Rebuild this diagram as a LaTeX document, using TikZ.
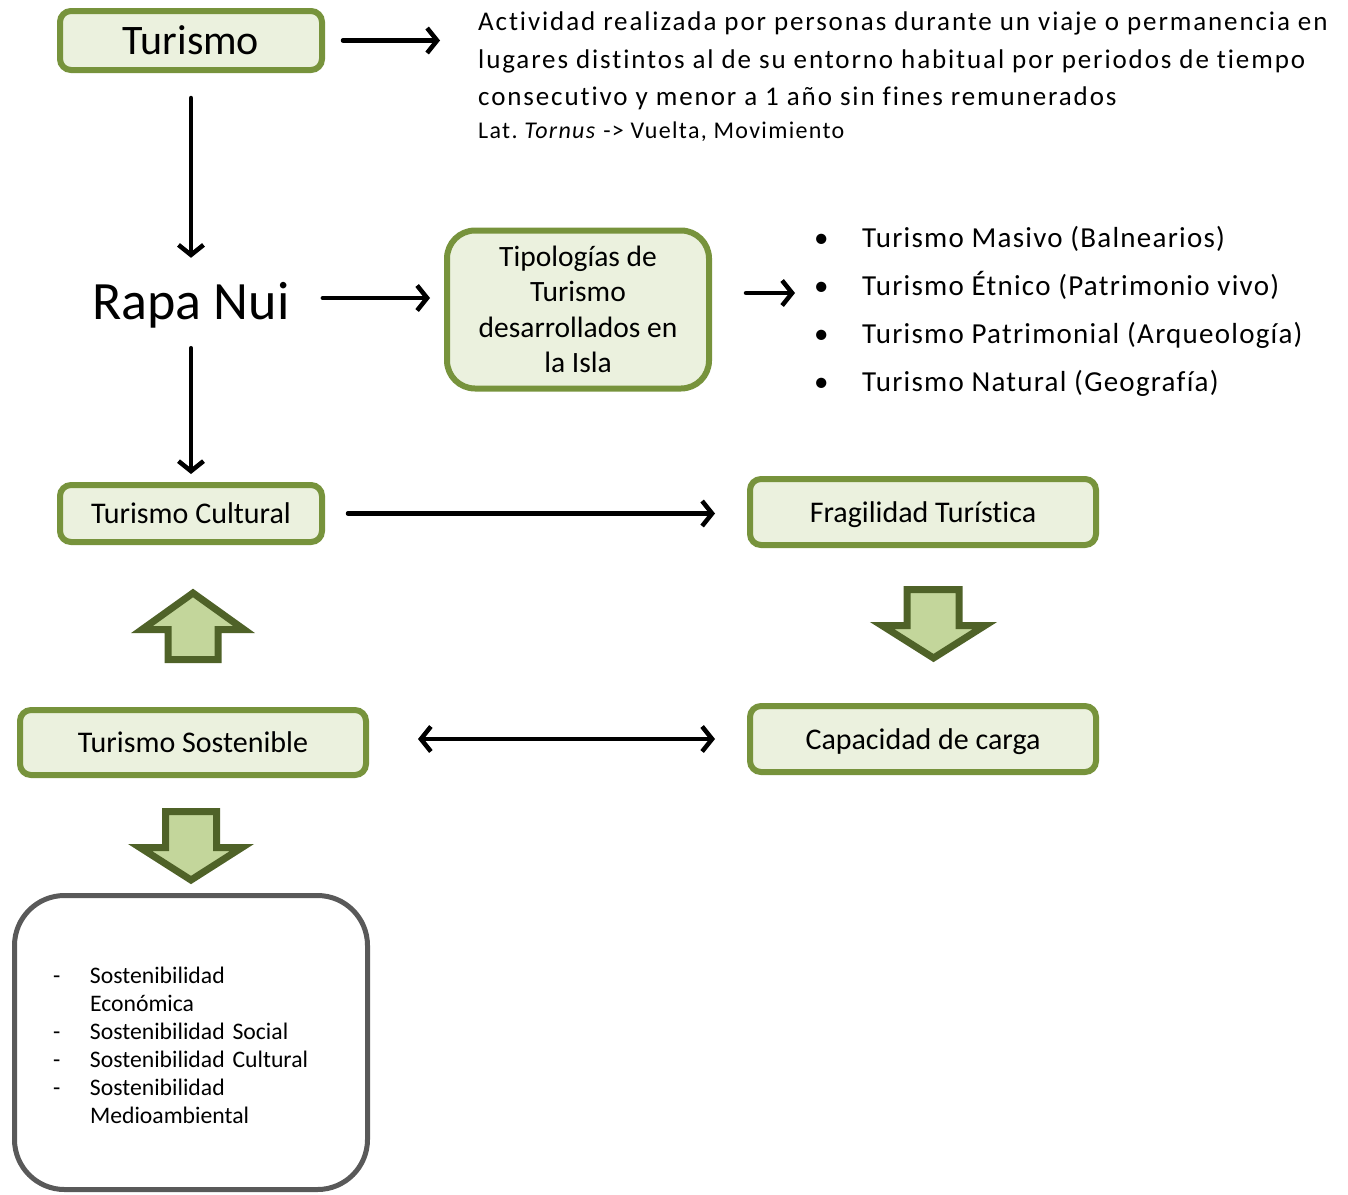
\documentclass[tikz,border=0pt]{standalone}
\usepackage{fontspec}
\setmainfont{Carlito}[Ligatures={TeX,NoCommon}]
\usetikzlibrary{arrows.meta}
\definecolor{boxfill}{HTML}{EBF1DE}
\definecolor{boxline}{HTML}{77933C}
\definecolor{blockfill}{HTML}{C3D69B}
\definecolor{blockline}{HTML}{4F6228}
\definecolor{greyline}{HTML}{595959}
\frenchspacing
\begin{document}
\begin{tikzpicture}[x=1pt,y=-1pt,
  gbox/.style={draw=boxline, line width=6pt, fill=boxfill, rounded corners=11pt,
    inner sep=0pt, align=center, font=\fontsize{30}{35}\selectfont},
  conn/.style={line width=4.5pt, line cap=round, -{Straight Barb[length=10pt,width=25pt]}},
  dconn/.style={line width=4.5pt, line cap=round,
    {Straight Barb[length=10pt,width=25pt]}-{Straight Barb[length=10pt,width=25pt]}},
  blockarrow/.style={draw=blockline, fill=blockfill, line width=7pt, line join=miter},
]
\useasboundingbox (0,0) rectangle (1348,1194);

% --- top row: definition of tourism
\node[gbox, minimum width=262pt, minimum height=59pt,
  font=\fontsize{42}{48}\selectfont] (turismo) at (191,40.5) {Turismo};
\node[anchor=north west, inner sep=0pt, align=left,
  font=\fontsize{27}{37.5}\selectfont\addfontfeature{LetterSpace=7}] (def) at (478,12)
  {Actividad realizada por personas durante un viaje o permanencia en\\
   lugares distintos al de su entorno habitual por periodos de tiempo\\
   consecutivo y menor a 1 año sin fines remunerados};
\node[anchor=north west, inner sep=0pt,
  font=\fontsize{24}{28}\selectfont\addfontfeature{LetterSpace=5.5}] (lat) at (478,122)
  {Lat. \textit{Tornus} -> Vuelta, Movimiento};
\draw[conn, shorten <=18pt, shorten >=38pt] (turismo.east) -- (turismo.east -| def.west);

% --- Rapa Nui and its tourism types
\node[inner sep=0pt, minimum width=197pt, minimum height=86pt,
  font=\fontsize{54}{60}\selectfont] (rapa) at (191,305) {Rapa Nui};
\draw[conn, shorten <=25pt, shorten >=4pt] (turismo.south) -- (rapa.north);

\node[gbox, rounded corners=28pt, minimum width=262pt, minimum height=158pt,
  font=\fontsize{29.5}{35.5}\selectfont] (tipo) at (578,309.5)
  {Tipologías de\\Turismo\\desarrollados en\\la Isla};
\draw[conn, shorten <=33pt, shorten >=14pt]
  ([yshift=7pt]rapa.east) -- ([yshift=7pt]rapa.east -| tipo.west);

\node[anchor=north west, inner sep=0pt, align=left,
  font=\fontsize{29}{48}\selectfont] (tipos) at (814,226)
  {\makebox[48pt][l]{•}{\addfontfeature{LetterSpace=4.3}Turismo Masivo (Balnearios)}\\
   \makebox[48pt][l]{•}{\addfontfeature{LetterSpace=4.3}Turismo Étnico (Patrimonio vivo)}\\
   \makebox[48pt][l]{•}{\addfontfeature{LetterSpace=4.3}Turismo Patrimonial (Arqueología)}\\
   \makebox[48pt][l]{•}{\addfontfeature{LetterSpace=4.3}Turismo Natural (Geografía)}};
\draw[conn, shorten <=34pt, shorten >=19pt]
  ([yshift=16.5pt]tipo.east) -- ([yshift=16.5pt]tipo.east -| tipos.west);

% --- cultural tourism and fragility
\node[gbox, minimum width=262pt, minimum height=57pt] (cultural) at (191,513.5)
  {Turismo Cultural};
\draw[conn, shorten <=0pt, shorten >=8pt] (rapa.south) -- (cultural.north);

\node[gbox, minimum width=346pt, minimum height=66pt, text depth=0pt] (fragil) at (923,512)
  {Fragilidad Turística};
\draw[conn, shorten <=23pt, shorten >=32pt]
  (cultural.east) -- (cultural.east -| fragil.west);

% --- sustainable tourism and carrying capacity
\node[gbox, minimum width=346pt, minimum height=65pt] (sost) at (193,742.5)
  {Turismo Sostenible};
\node[gbox, minimum width=346pt, minimum height=66pt, text depth=0pt] (carga) at (923,739)
  {Capacidad de carga};
\draw[dconn, shorten <=49pt, shorten >=32pt]
  (sost.east |- carga.west) -- (carga.west);

% --- block arrows
\draw[blockarrow] (193,593) -- (244,629.5) -- (218,629.5) -- (218,659.5)
  -- (168,659.5) -- (168,629.5) -- (142,629.5) -- cycle;
\draw[blockarrow] (907,589.5) -- (959,589.5) -- (959,625.5) -- (985,625.5)
  -- (933.5,658) -- (882,625.5) -- (907,625.5) -- cycle;
\draw[blockarrow] (165.5,811.5) -- (216.5,811.5) -- (216.5,847.5) -- (242,847.5)
  -- (191,880) -- (140,847.5) -- (165.5,847.5) -- cycle;

% --- dimensions of sustainability
\node[draw=greyline, line width=5pt, fill=white, rounded corners=50pt,
  minimum width=353pt, minimum height=294pt, text width=276pt, align=left,
  inner sep=0pt, font=\fontsize{23.7}{28.1}\selectfont] (dims) at (191,1042.5)
  {\raisebox{-5.5pt}[\height][\depth]{\begin{tabular}{@{}p{37pt}@{}l@{}}
   -&Sostenibilidad\\
    &Económica\\
   -&Sostenibilidad Social\\
   -&Sostenibilidad Cultural\\
   -&Sostenibilidad\\
    &Medioambiental
   \end{tabular}}};
\end{tikzpicture}
\end{document}
